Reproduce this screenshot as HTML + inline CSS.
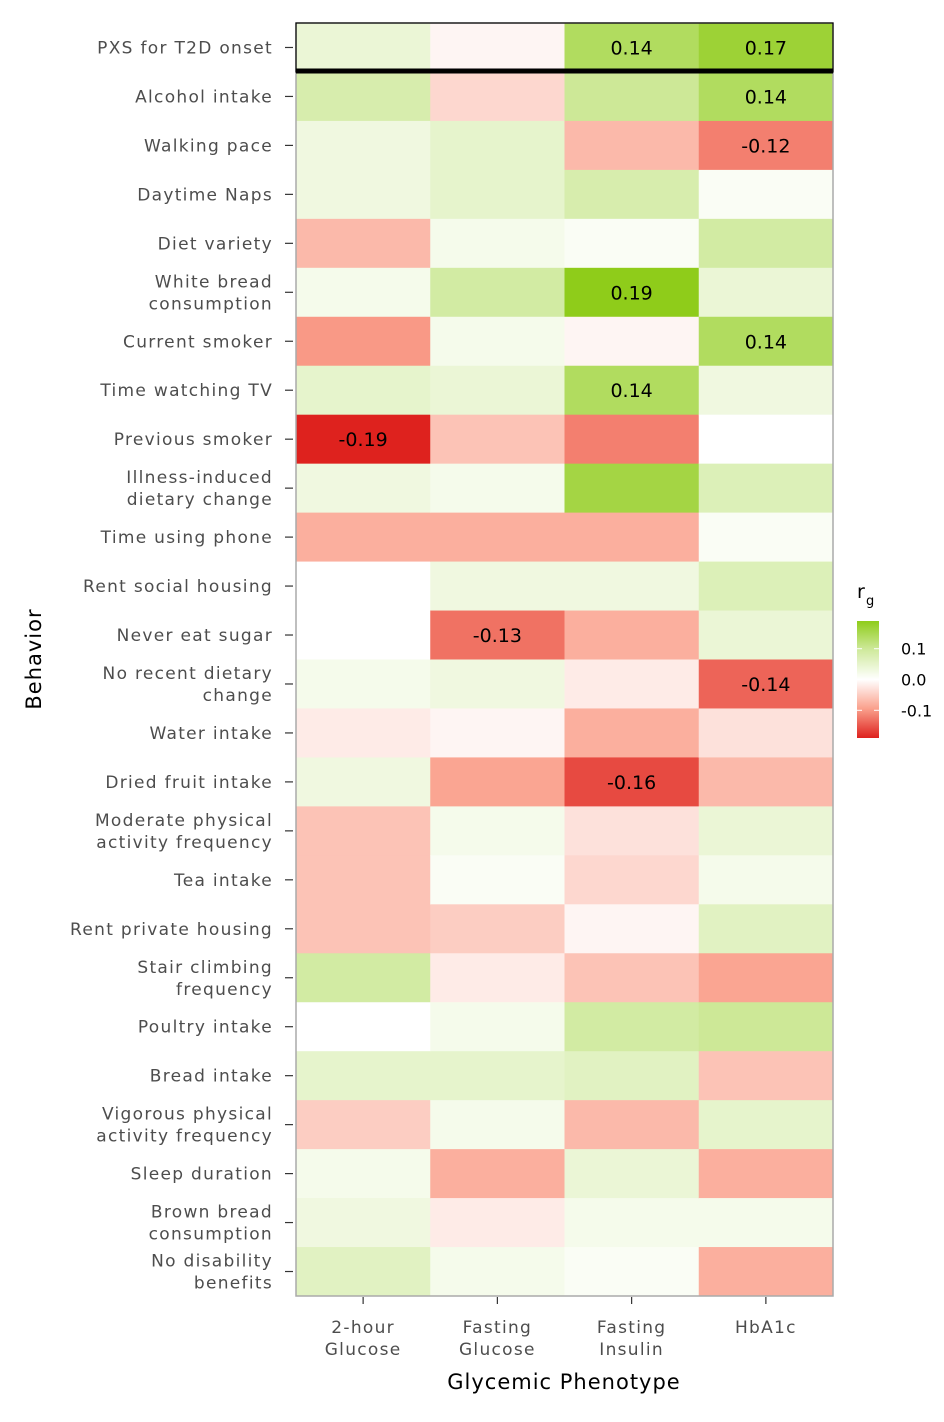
<!DOCTYPE html>
<html><head><meta charset="utf-8"><style>
body{margin:0;background:#fff;}
svg text{font-family:"DejaVu Sans","Liberation Sans",sans-serif;}
</style></head><body>
<svg id="chart" width="944" height="1417" xmlns="http://www.w3.org/2000/svg">
<g id="cells"></g>
<g id="ylab"></g>
<g id="xlab"></g>
<text x="41" y="659" transform="rotate(-90 41 659)" text-anchor="middle" font-size="21" letter-spacing="1" fill="#000">Behavior</text>
<text x="564" y="1389" text-anchor="middle" font-size="21" letter-spacing="1" fill="#000">Glycemic Phenotype</text>
<g id="legend"></g>
</svg>
<script>
const behaviors=[["PXS for T2D onset"],["Alcohol intake"],["Walking pace"],["Daytime Naps"],["Diet variety"],["White bread","consumption"],["Current smoker"],["Time watching TV"],["Previous smoker"],["Illness-induced","dietary change"],["Time using phone"],["Rent social housing"],["Never eat sugar"],["No recent dietary","change"],["Water intake"],["Dried fruit intake"],["Moderate physical","activity frequency"],["Tea intake"],["Rent private housing"],["Stair climbing","frequency"],["Poultry intake"],["Bread intake"],["Vigorous physical","activity frequency"],["Sleep duration"],["Brown bread","consumption"],["No disability","benefits"]];
const phenotypes=[["2-hour","Glucose"],["Fasting","Glucose"],["Fasting","Insulin"],["HbA1c"]];
const glucose2h=[0.04,0.08,0.03,0.03,-0.07,0.02,-0.10,0.05,-0.19,0.03,-0.08,0.00,0.00,0.02,-0.02,0.03,-0.06,-0.06,-0.06,0.09,0.00,0.05,-0.05,0.02,0.03,0.06];
const fastingGlucose=[-0.01,-0.04,0.05,0.05,0.02,0.09,0.02,0.04,-0.06,0.02,-0.08,0.03,-0.13,0.03,-0.01,-0.09,0.02,0.01,-0.05,-0.02,0.02,0.05,0.02,-0.08,-0.02,0.02];
const fastingInsulin=[0.14,0.10,-0.07,0.08,0.01,0.19,-0.01,0.14,-0.12,0.16,-0.08,0.03,-0.08,-0.02,-0.08,-0.16,-0.03,-0.04,-0.01,-0.06,0.09,0.06,-0.07,0.04,0.02,0.01];
const hba1c=[0.17,0.14,-0.12,0.01,0.09,0.04,0.14,0.03,0.00,0.07,0.01,0.07,0.04,-0.14,-0.03,-0.07,0.04,0.02,0.06,-0.09,0.10,-0.06,0.05,-0.08,0.02,-0.08];
const shownLabels=[[0,2],[0,3],[1,3],[2,3],[5,2],[6,3],[7,2],[8,0],[12,1],[13,3],[15,2]];
const legendTicks=[0.1,0.0,-0.1];
const series=[glucose2h,fastingGlucose,fastingInsulin,hba1c];
const NS="http://www.w3.org/2000/svg";
const X0=296,X1=833,Y0=23,Y1=1296;
const cw=(X1-X0)/phenotypes.length, rh=(Y1-Y0)/behaviors.length;
function xPos(i){return X0+i*cw;}
function yPos(j){return Y0+j*rh;}
function lerp(a,b,t){return a.map((x,k)=>Math.round(x+(b[k]-x)*t));}
function color(v){
  const t=Math.min(1,Math.abs(v)/0.19);
  let c;
  if(v>=0){
    c=t<0.5?lerp([255,255,255],[208,234,158],t/0.5):lerp([208,234,158],[143,204,26],(t-0.5)/0.5);
  }else{
    c=t<0.5?lerp([255,255,255],[250,160,140],t/0.5):lerp([250,160,140],[222,34,30],(t-0.5)/0.5);
  }
  return `rgb(${c[0]},${c[1]},${c[2]})`;
}
function el(tag,attrs,parent){const e=document.createElementNS(NS,tag);for(const k in attrs)e.setAttribute(k,attrs[k]);parent.appendChild(e);return e;}
const cells=document.getElementById('cells');
series.forEach((s,i)=>s.forEach((v,j)=>{
  const r=el('rect',{x:xPos(i),y:yPos(j),width:cw+0.5,height:rh+0.5,fill:color(v)},cells);
  
  
}));
shownLabels.forEach(([j,i])=>{
  const v=series[i][j];
  const t=el('text',{x:xPos(i)+cw/2,y:yPos(j)+rh/2+7,'text-anchor':'middle','font-size':'19',fill:'#000'},cells);
  t.textContent=v.toFixed(2);
  
  
});
el('rect',{x:X0,y:Y0,width:X1-X0,height:Y1-Y0,fill:'none',stroke:'#aaa','stroke-width':1.5},cells);
const hl=el('rect',{x:X0,y:Y0,width:X1-X0,height:rh,fill:'none',stroke:'#000','stroke-width':1.2},cells);


el('line',{x1:X0,x2:X1,y1:Y0+rh-1,y2:Y0+rh-1,stroke:'#000','stroke-width':5},cells);
const yl=document.getElementById('ylab');
behaviors.forEach((lines,j)=>{
  const cy=yPos(j)+rh/2;
  el('line',{x1:285,x2:293,y1:cy,y2:cy,stroke:'#333','stroke-width':1.2},yl);
  lines.forEach((ln,k)=>{
    const yy=cy+6+(k-(lines.length-1)/2)*22;
    const t=el('text',{x:273,y:yy,'text-anchor':'end','font-size':'17',fill:'#4d4d4d','letter-spacing':'1.3'},yl);
    t.textContent=ln;
    
    
  });
});
const xl=document.getElementById('xlab');
phenotypes.forEach((lines,i)=>{
  const cx=xPos(i)+cw/2;
  el('line',{x1:cx,x2:cx,y1:Y1+1,y2:Y1+8,stroke:'#333','stroke-width':1.2},xl);
  lines.forEach((ln,k)=>{
    const t=el('text',{x:cx,y:1333+k*22,'text-anchor':'middle','font-size':'17',fill:'#4d4d4d','letter-spacing':'1.3'},xl);
    t.textContent=ln;
    
    
  });
});
const lg=document.getElementById('legend');
const LT=621,LB=738,LX=857,LW=22;
const grad=el('linearGradient',{id:'lgrad',x1:0,y1:0,x2:0,y2:1},el('defs',{},lg));
for(let k=0;k<=20;k++){const v=0.19-k*0.019;el('stop',{offset:(k/20),'stop-color':color(v)},grad);}
el('rect',{x:LX,y:LT,width:LW,height:LB-LT,fill:'url(#lgrad)'},lg);
function ly(v){return LT+(0.19-v)/0.38*(LB-LT);}
legendTicks.forEach(v=>{
  el('line',{x1:LX,x2:LX+5,y1:ly(v),y2:ly(v),stroke:'#fff','stroke-width':1},lg);
  el('line',{x1:LX+LW-5,x2:LX+LW,y1:ly(v),y2:ly(v),stroke:'#fff','stroke-width':1},lg);
  const t=el('text',{x:901,y:ly(v)+6,'font-size':'16',fill:'#000'},lg);
  t.textContent=v.toFixed(1);
  
  
});
const tt=el('text',{x:857,y:598,'font-size':'19',fill:'#000'},lg);
tt.textContent='r';


const ts=el('text',{x:866,y:605,'font-size':'13',fill:'#000'},lg);
ts.textContent='g';


</script>
</body></html>
